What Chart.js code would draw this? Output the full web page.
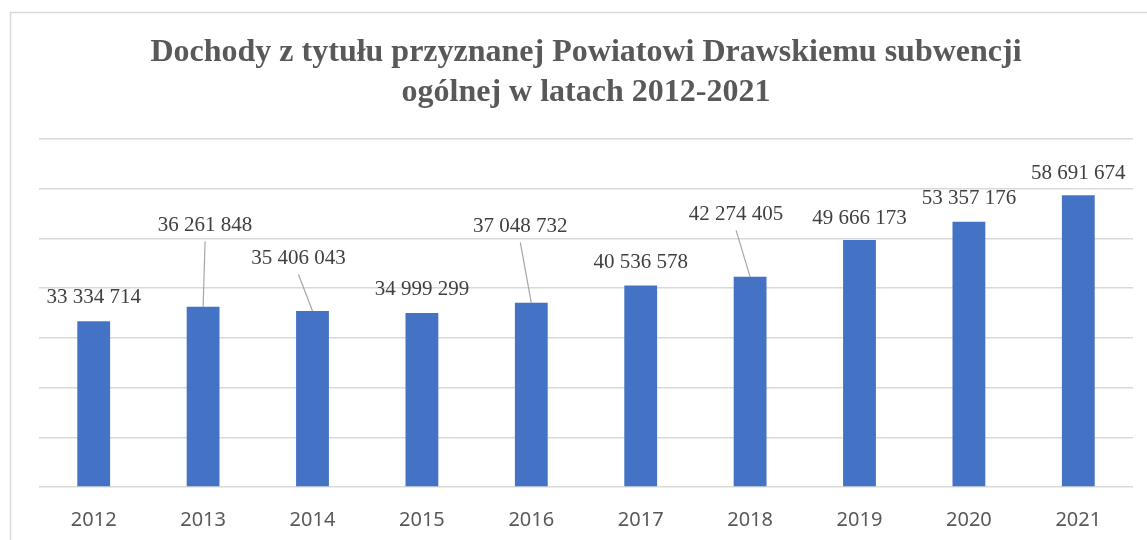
<!DOCTYPE html>
<html lang="pl">
<head>
<meta charset="UTF-8">
<title>Dochody z tytułu subwencji ogólnej</title>
<script src="https://cdn.jsdelivr.net/npm/chart.js@4.4.1/dist/chart.umd.min.js"></script>
<style>
    html, body { margin: 0; padding: 0; background: #fff; overflow: hidden; }
    #wrap { position: relative; width: 1147px; height: 540px; }
</style>
</head>
<body>
<div id="wrap"><canvas id="dochodyChart" width="1147" height="540"></canvas></div>
<script>
// dane
const lata = ['2012', '2013', '2014', '2015', '2016', '2017', '2018', '2019', '2020', '2021'];
const subwencja = [33334714, 36261848, 35406043, 34999299, 37048732, 40536578, 42274405, 49666173, 53357176, 58691674];
const osY = { min: 0, max: 70000000, krok: 10000000 };

// przesunięcia etykiet względem wierzchołka słupka (px) i linie odniesienia
const etykietyDx = [0, 2, -14, 0, -11, 0, -14, 0, 0, 0];
const etykietyDy = [-24, -81, -52, -24, -76, -23, -62, -22, -23, -22];
const linieOdn = [false, true, true, false, true, false, true, false, false, false];

function formatSpace(n) {
    return String(n).replace(/\B(?=(\d{3})+(?!\d))/g, ' ');
}

const ramka = {
    id: 'ramka',
    beforeDraw(chart) {
        const ctx = chart.ctx;
        ctx.save();
        ctx.strokeStyle = '#d9d9d9';
        ctx.lineWidth = 1.5;
        ctx.beginPath();
        ctx.moveTo(10.5, chart.height);
        ctx.lineTo(10.5, 12.5);
        ctx.lineTo(chart.width, 12.5);
        ctx.stroke();
        ctx.restore();
    }
};

const etykiety = {
    id: 'etykiety',
    afterDatasetsDraw(chart) {
        const ctx = chart.ctx;
        const meta = chart.getDatasetMeta(0);
        ctx.save();
        ctx.font = '21px "Liberation Serif", "Times New Roman", serif';
        ctx.fillStyle = '#404040';
        ctx.textAlign = 'center';
        ctx.textBaseline = 'middle';
        meta.data.forEach((bar, i) => {
            const x = bar.x + etykietyDx[i];
            const y = bar.y + etykietyDy[i];
            ctx.fillText(formatSpace(subwencja[i]), x, y);
            if (linieOdn[i]) {
                ctx.strokeStyle = '#a6a6a6';
                ctx.lineWidth = 1.2;
                ctx.beginPath();
                ctx.moveTo(x, y + 15.5);
                ctx.lineTo(bar.x, bar.y);
                ctx.stroke();
            }
        });
        ctx.restore();
    }
};

const ctx = document.getElementById('dochodyChart').getContext('2d');
new Chart(ctx, {
    type: 'bar',
    data: {
        labels: lata,
        datasets: [{
            data: subwencja,
            backgroundColor: '#4472c4',
            borderWidth: 0,
            barPercentage: 0.3,
            categoryPercentage: 1
        }]
    },
    options: {
        responsive: false,
        animation: false,
        layout: { padding: { left: 39, right: 14, top: 12, bottom: 0 } },
        plugins: {
            legend: { display: false },
            tooltip: { enabled: false },
            title: {
                display: true,
                text: ['Dochody z tytułu przyznanej Powiatowi Drawskiemu subwencji', 'ogólnej w latach 2012-2021'],
                color: '#595959',
                font: { family: '"Liberation Serif", "Times New Roman", serif', size: 32, weight: 'bold', lineHeight: 1.25 },
                padding: { top: 21, bottom: 26 }
            }
        },
        scales: {
            x: {
                grid: { display: false, drawTicks: false },
                border: { display: false },
                ticks: {
                    color: '#595959',
                    padding: 21,
                    font: { family: '"Noto Sans", "Open Sans", sans-serif', size: 20 }
                },
                afterFit(scale) { scale.height = 53; }
            },
            y: {
                min: osY.min,
                max: osY.max,
                ticks: { display: false, stepSize: osY.krok },
                border: { display: false },
                grid: { color: '#d9d9d9', lineWidth: 1.5, drawTicks: false }
            }
        }
    },
    plugins: [ramka, etykiety]
});
</script>
</body>
</html>
